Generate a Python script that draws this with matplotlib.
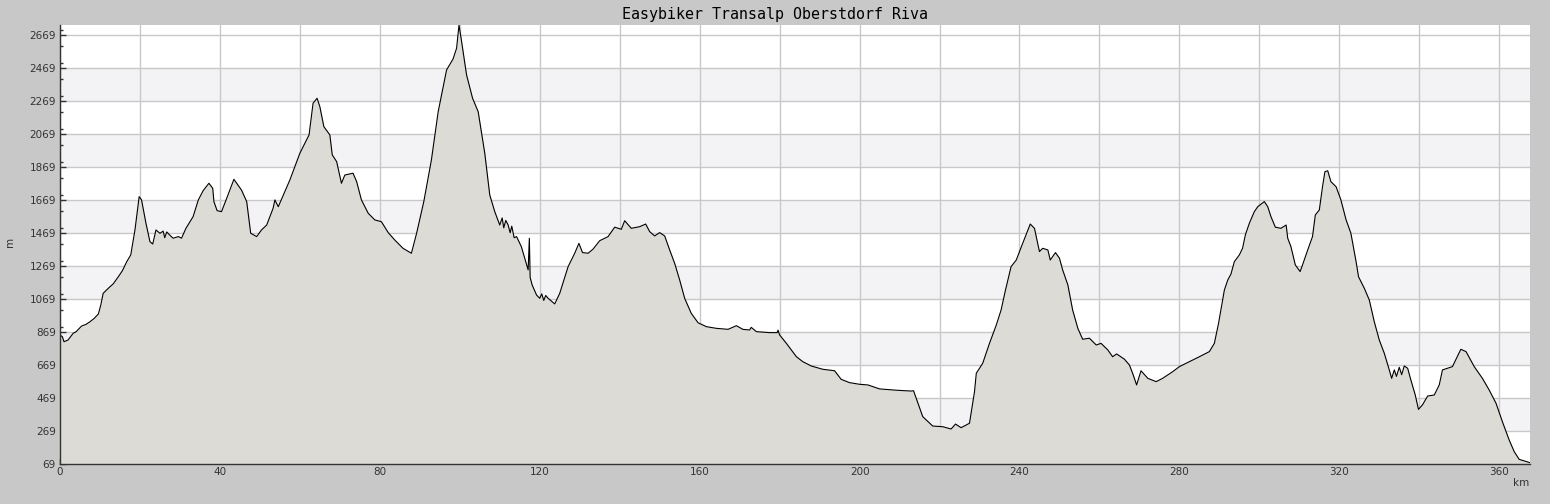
import matplotlib.pyplot as plt
from matplotlib.ticker import MultipleLocator, FuncFormatter

title = "Easybiker Transalp Oberstdorf Riva"

# elevation profile (km, m)
km = [0, 0.6, 1, 2, 3.3, 4, 5.4, 6.5, 7.5, 8.5, 9.6, 10.2, 10.8, 11.5, 12.5, 13.3,
      14.6, 15.6, 16.7, 17.7, 18.75, 19.8, 20.4, 21.5, 22.5, 23.2, 24, 25, 25.8,
      26.2, 26.7, 27.5, 28.3, 29.6, 30.4, 31.5, 33.3, 34.6, 35.8, 37.25, 38.2,
      38.5, 39.3, 40.4, 41.7, 43.5, 45.4, 46.7, 47.7, 49.2, 50.4, 51.7, 53.3,
      53.75, 54.6, 57.5, 60, 62.3, 63.3, 64.3, 65, 66, 67.5, 68.1, 69.2, 70.4,
      71.25, 73.3, 74.2, 75.4, 77.1, 78.75, 80.4, 82.1, 83.75, 85.8, 87.9, 89.2,
      91, 92.9, 94.6, 96.7, 98.3, 99.2, 99.8, 100.4, 101.7, 103.2, 104.6, 106.25,
      107.5, 108.75, 110, 110.6, 111, 111.5, 112.1, 112.6, 113, 113.6, 114.2,
      115.4, 117.1, 117.4, 117.6, 118.1, 119.2, 120, 120.5, 121, 121.5, 122.1,
      123.75, 125, 127.1, 128.75, 129.8, 130.7, 132.1, 133.3, 135, 137.1, 138.75,
      140.4, 141.25, 142.9, 145, 146.5, 147.5, 148.75, 150, 151.25, 152.5, 153.75,
      155, 156.25, 157.9, 159.6, 161.7, 164.2, 167.1, 169.2, 170.8, 172.5, 172.9,
      174.2, 177.5, 179.4, 179.6, 180, 181.7, 184.2, 185.8, 187.9, 190.8, 193.75,
      195.4, 197.5, 200, 202.1, 205, 209.2, 212.9, 213.5, 214.6, 215.8, 218.3,
      220.8, 222.9, 224, 225.4, 227.5, 227.9, 228.75, 229.2, 230.8, 232.5, 234.2,
      235.4, 236.5, 237.9, 239.2, 240.8, 242.7, 243.75, 245, 245.8, 247.1, 247.7,
      249, 250, 250.8, 252.1, 253.3, 254.6, 255.8, 257.5, 259.2, 260.4, 262.1,
      263.3, 264.3, 266.25, 267.5, 268.3, 269.3, 270.4, 272.1, 274.2, 275.8,
      278.3, 280, 282.5, 285, 287.5, 288.75, 289.8, 291.25, 292.1, 292.9, 293.75,
      295, 295.8, 296.5, 297.5, 298.75, 299.6, 301.25, 302.1, 302.9, 304, 305.4,
      306.7, 307.1, 307.9, 309, 310.2, 310.8, 312.1, 313.3, 314, 315, 315.8,
      316.4, 317.1, 317.9, 319.2, 320.4, 321.7, 322.9, 324.2, 324.8, 326.25,
      327.5, 328.75, 330, 331.25, 332.5, 333.1, 333.75, 334.3, 335, 335.6, 336.25,
      337.1, 337.9, 339, 339.8, 340.8, 342.1, 343.75, 345, 345.8, 348.3, 350.4,
      351.7, 353.75, 355.8, 357.5, 359.2, 360.8, 362.5, 363.75, 365, 367.7]
elev = [851, 840, 810, 820, 861, 870, 905, 915, 931, 950, 978, 1032, 1103, 1120, 1143, 1160,
        1204, 1240, 1295, 1336, 1487, 1689, 1669, 1528, 1416, 1402, 1487, 1467, 1480,
        1440, 1475, 1455, 1437, 1447, 1437, 1497, 1568, 1669, 1725, 1770, 1740,
        1659, 1604, 1598, 1679, 1794, 1729, 1659, 1467, 1447, 1487, 1517, 1618,
        1669, 1628, 1790, 1952, 2063, 2255, 2285, 2234, 2113, 2063, 1942, 1901, 1770,
        1820, 1831, 1780, 1669, 1588, 1548, 1537, 1471, 1426, 1376, 1346, 1467,
        1659, 1911, 2204, 2457, 2522, 2588, 2729, 2638, 2426, 2285, 2204, 1952,
        1699, 1598, 1517, 1560, 1500, 1545, 1517, 1470, 1510, 1440, 1447,
        1386, 1245, 1437, 1200, 1154, 1093, 1073, 1100, 1060, 1090, 1073,
        1039, 1103, 1265, 1346, 1406, 1350, 1346, 1370, 1422, 1447, 1504,
        1491, 1543, 1497, 1507, 1523, 1477, 1451, 1471, 1451, 1366, 1285,
        1184, 1073, 982, 925, 901, 891, 885, 907, 885, 881, 897,
        871, 865, 865, 880, 851, 800, 719, 689, 663, 643, 634,
        582, 562, 552, 548, 524, 516, 511, 513, 437, 356, 299,
        295, 281, 311, 289, 316, 376, 507, 619, 679, 800, 911,
        1002, 1123, 1265, 1305, 1406, 1523, 1497, 1356, 1376, 1366, 1305,
        1350, 1316, 1245, 1154, 1002, 891, 825, 831, 790, 800, 760,
        719, 736, 704, 669, 619, 548, 634, 588, 568, 588,
        628, 659, 689, 719, 750, 800, 922, 1123, 1184, 1220, 1295,
        1336, 1376, 1457, 1528, 1598, 1628, 1659, 1628, 1568, 1504, 1497,
        1517, 1437, 1386, 1275, 1235, 1275, 1366, 1447, 1578, 1608, 1749,
        1840, 1846, 1780, 1749, 1669, 1548, 1467, 1295, 1204, 1134,
        1063, 931, 820, 740, 639, 588, 639, 600, 655, 610, 663,
        649, 578, 487, 400, 427, 481, 487, 548, 639, 659, 764,
        750, 659, 588, 517, 437, 325, 214, 144, 97, 77]

y_ticks = list(range(69, 2670, 200))

bg = "#c8c8c8"
fig = plt.figure(figsize=(15.5, 5.04), dpi=100, facecolor=bg)
ax = fig.add_axes([60/1550, 40/504, 1470/1550, 439/504])
ax.set_facecolor("white")

# alternating horizontal bands (only between labelled ticks)
for lo in y_ticks[1:-1:2]:
    ax.axhspan(lo, lo + 200, color="#f3f2f5", zorder=0, lw=0)

ax.fill_between(km, elev, 0, color="#dcdbd6", zorder=2, lw=0)
ax.plot(km, elev, color="black", lw=0.8, zorder=3)

ax.set_xlim(0, 367.7)
ax.set_ylim(69, 2729)

ax.set_yticks(y_ticks)
ax.yaxis.set_minor_locator(MultipleLocator(100))
ax.xaxis.set_major_locator(MultipleLocator(20))
ax.xaxis.set_minor_locator(MultipleLocator(10))
ax.xaxis.set_major_formatter(FuncFormatter(lambda v, p: f"{v:.0f}" if round(v) % 40 == 0 else ""))

ax.grid(True, which="major", color="#c8c8c8", lw=1, zorder=1)
ax.set_axisbelow(True)
for a in ax.get_ygridlines() + ax.get_xgridlines():
    a.set_zorder(1)

ax.tick_params(which="both", direction="in", colors="#333333", labelsize=7.5, pad=3)
ax.tick_params(which="major", length=4.5, width=1)
ax.tick_params(which="minor", length=2.5, width=1)
ax.tick_params(axis="x", pad=2)

for s in ["top", "right"]:
    ax.spines[s].set_visible(False)
for s in ["left", "bottom"]:
    ax.spines[s].set_color("#333333")
    ax.spines[s].set_linewidth(1)
    ax.spines[s].set_zorder(4)

fig.text(10/1550, 1 - 242/504, "m", rotation=90, ha="center", va="center", fontsize=7.5, color="#333333")
fig.text(1521/1550, 1 - 483/504, "km", ha="center", va="center", fontsize=7.5, color="#333333")
fig.text(775/1550, 1 - 14/504, title, ha="center", va="center", fontsize=10.8,
         family="DejaVu Sans Mono", color="black")

fig.savefig("out.png", dpi=100, facecolor=bg)
